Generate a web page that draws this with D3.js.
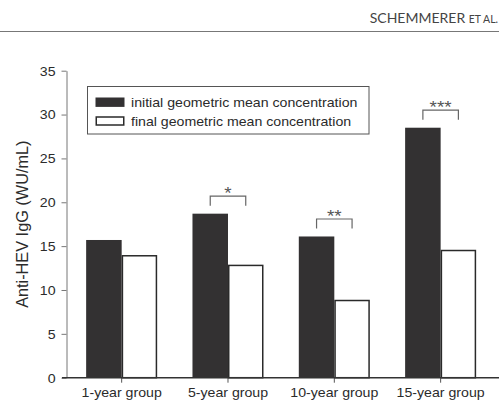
<!DOCTYPE html>
<html>
<head>
<meta charset="utf-8">
<script src="https://cdn.jsdelivr.net/npm/d3@7"></script>
<style>
  body { margin: 0; background: #fff; }
  svg { display: block; }
  .tickText { font-family: "Liberation Sans", Arial, sans-serif; font-size: 12px; fill: #2b2b2b; }
</style>
</head>
<body>
<div id="chart"></div>
<script>
var categories = ["1-year group", "5-year group", "10-year group", "15-year group"];
var initialValues = [15.7, 18.7, 16.1, 28.5];
var finalValues = [13.9, 12.8, 8.8, 14.5];
var significance = ["", "*", "**", "***"];
var seriesNames = ["initial geometric mean concentration", "final geometric mean concentration"];
var yTicks = [0, 5, 10, 15, 20, 25, 30, 35];

var width = 499, height = 400;
var stretch = 1.18; // figure text is stretched horizontally
var darkFill = "#333132";

var svg = d3.select("#chart").append("svg")
  .attr("width", width)
  .attr("height", height);

// running header
svg.append("text")
  .attr("x", 498)
  .attr("y", 23)
  .attr("text-anchor", "end")
  .attr("fill", "#444")
  .style("font-family", "Lato, sans-serif")
  .style("font-size", "14px")
  .call(t => {
    t.append("tspan").text("SCHEMMERER ");
    t.append("tspan").style("font-size", "10.5px").text("ET AL.");
  });
svg.append("line")
  .attr("x1", 0).attr("x2", width)
  .attr("y1", 31.5).attr("y2", 31.5)
  .attr("stroke", "#777")
  .attr("stroke-width", 1.2);

var x0 = d3.scaleBand()
  .domain(categories)
  .range([68.5, 493.8])
  .paddingInner(0.332)
  .paddingOuter(0.166);

var x1 = d3.scaleBand()
  .domain([0, 1])
  .range([0, x0.bandwidth()]);

var y = d3.scaleLinear()
  .domain([0, 35])
  .range([377.7, 70.7]);

var axisX = 66.5;

// y axis
var yAxis = svg.append("g")
  .attr("transform", `translate(${axisX},0)`)
  .call(d3.axisLeft(y).tickValues(yTicks).tickSize(5).tickSizeOuter(0));
yAxis.select(".domain").attr("stroke", "#777");
yAxis.selectAll(".tick line").attr("stroke", "#777");
yAxis.selectAll(".tick text")
  .attr("class", "tickText")
  .attr("x", -11 / stretch)
  .attr("dy", "0.36em")
  .attr("transform", `scale(${stretch},1)`);

// bars
var groups = svg.selectAll(".group")
  .data(categories)
  .enter()
  .append("g")
  .attr("class", "group")
  .attr("transform", d => `translate(${x0(d)},0)`);

groups.append("rect")
  .attr("x", x1(0))
  .attr("y", (d, i) => y(initialValues[i]))
  .attr("width", x1.bandwidth())
  .attr("height", (d, i) => y(0) - y(initialValues[i]))
  .attr("fill", darkFill);

groups.append("rect")
  .attr("x", x1(1) + 0.75)
  .attr("y", (d, i) => y(finalValues[i]))
  .attr("width", x1.bandwidth() - 1.5)
  .attr("height", (d, i) => y(0) - y(finalValues[i]))
  .attr("fill", "#fff")
  .attr("stroke", "#2a2a2a")
  .attr("stroke-width", 1.5);

// significance brackets
groups.each(function(d, i) {
  if (!significance[i]) return;
  var g = d3.select(this);
  var xa = x1(0) + x1.bandwidth() / 2;
  var xb = x1(1) + x1.bandwidth() / 2;
  var top = y(Math.max(initialValues[i], finalValues[i])) - 17.5;
  var bottom = top + 9.5;
  g.append("path")
    .attr("d", `M${xa},${bottom}V${top}H${xb}V${bottom}`)
    .attr("fill", "none")
    .attr("stroke", "#666")
    .attr("stroke-width", 1.2);
  g.append("text")
    .attr("x", (xa + xb) / 2 / stretch)
    .attr("y", top + 3.2)
    .attr("transform", `scale(${stretch},1)`)
    .attr("text-anchor", "middle")
    .attr("fill", "#555")
    .style("font-family", "Liberation Sans, Arial, sans-serif")
    .style("font-size", "16px")
    .text(significance[i]);
});

// x axis
var xAxis = svg.append("g")
  .attr("transform", `translate(0,${y(0)})`)
  .call(d3.axisBottom(x0).tickSize(5).tickSizeOuter(0));
xAxis.select(".domain").remove();
xAxis.selectAll(".tick line").attr("stroke", "#555");
xAxis.selectAll(".tick text")
  .attr("class", "tickText")
  .attr("y", 19.3)
  .attr("dy", 0)
  .attr("transform", `scale(${stretch},1)`);
svg.append("line")
  .attr("x1", 62).attr("x2", width)
  .attr("y1", y(0)).attr("y2", y(0))
  .attr("stroke", "#333")
  .attr("stroke-width", 1.5);

// y axis title
svg.append("text")
  .attr("transform", `translate(27.5,${(y(0) + y(35)) / 2}) rotate(-90)`)
  .attr("text-anchor", "middle")
  .attr("fill", "#2b2b2b")
  .style("font-family", "Liberation Sans, Arial, sans-serif")
  .style("font-size", "16.3px")
  .text("Anti-HEV IgG (WU/mL)");

// legend
var legend = svg.append("g");
legend.append("rect")
  .attr("x", 87.5).attr("y", 86.5)
  .attr("width", 281.5).attr("height", 47.5)
  .attr("fill", "#fff")
  .attr("stroke", "#555")
  .attr("stroke-width", 1);

var legendItems = legend.selectAll(".legendItem")
  .data(seriesNames)
  .enter()
  .append("g")
  .attr("class", "legendItem")
  .attr("transform", (d, i) => `translate(95.5,${97.5 + i * 19})`);

legendItems.append("rect")
  .attr("x", (d, i) => i ? 0.75 : 0)
  .attr("y", (d, i) => i ? 0.5 : 0)
  .attr("width", (d, i) => i ? 27.5 : 29)
  .attr("height", (d, i) => i ? 8 : 9.4)
  .attr("fill", (d, i) => i ? "#fff" : darkFill)
  .attr("stroke", (d, i) => i ? "#2a2a2a" : "none")
  .attr("stroke-width", 1.5);

legendItems.append("text")
  .attr("class", "tickText")
  .attr("x", 35.5 / stretch)
  .attr("y", 9)
  .attr("transform", `scale(${stretch},1)`)
  .text(d => d);
</script>
</body>
</html>
